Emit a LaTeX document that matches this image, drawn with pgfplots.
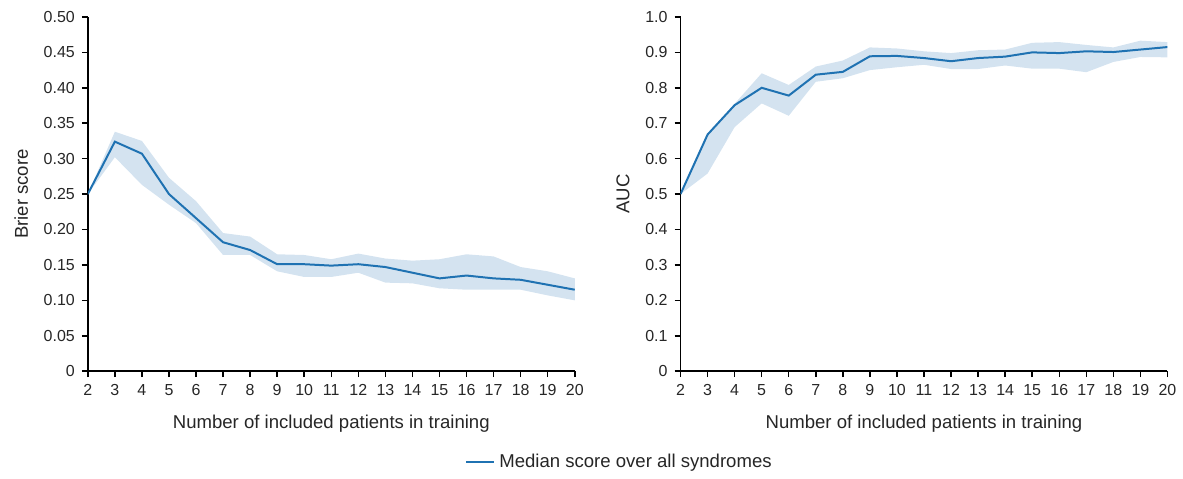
\documentclass[border=0pt]{standalone}
\usepackage{pgfplots}
\pgfplotsset{compat=1.18}
\usepgfplotslibrary{fillbetween}
\usepackage{fontspec}
\setmainfont{Liberation Sans}

\definecolor{medline}{RGB}{31,114,178}
\definecolor{bandfill}{RGB}{212,227,240}

% Brier score: x, median, upper, lower
\pgfplotstableread{
x  med   up    lo
2  0.250 0.250 0.250
3  0.324 0.338 0.302
4  0.307 0.325 0.263
5  0.250 0.273 0.235
6  0.216 0.240 0.209
7  0.182 0.195 0.164
8  0.171 0.190 0.164
9  0.151 0.165 0.141
10 0.151 0.164 0.133
11 0.149 0.158 0.133
12 0.151 0.166 0.139
13 0.147 0.159 0.125
14 0.139 0.156 0.124
15 0.131 0.158 0.117
16 0.135 0.165 0.115
17 0.131 0.162 0.115
18 0.129 0.147 0.115
19 0.122 0.141 0.107
20 0.115 0.131 0.100
}\brier

% AUC: x, median, upper, lower
\pgfplotstableread{
x  med   up    lo
2  0.500 0.500 0.500
3  0.668 0.670 0.558
4  0.751 0.755 0.689
5  0.800 0.841 0.756
6  0.778 0.808 0.721
7  0.837 0.860 0.817
8  0.845 0.877 0.827
9  0.889 0.914 0.850
10 0.890 0.911 0.858
11 0.884 0.903 0.865
12 0.875 0.898 0.853
13 0.884 0.906 0.853
14 0.888 0.908 0.863
15 0.900 0.927 0.854
16 0.898 0.929 0.854
17 0.903 0.921 0.844
18 0.901 0.914 0.873
19 0.908 0.933 0.887
20 0.915 0.929 0.886
}\auc

\pgfplotsset{
  panel/.style={
    scale only axis,
    width=244pt, height=177.5pt,
    axis lines*=left,
    axis line style={line width=0.75pt, black},
    tick align=outside,
    major tick length=3pt,
    tick style={line width=0.75pt, black},
    xmin=2, xmax=20,
    xtick={2,...,20},
    /pgf/number format/assume math mode=true,
    tick label style={font=\fontsize{8}{9}\selectfont, text=black!85},
    label style={font=\fontsize{9.3}{11}\selectfont, text=black!85},
    xlabel={Number of included patients in training},
    xlabel style={yshift=-3pt},
    ylabel style={yshift=1pt},
  },
}

\begin{document}
\begin{tikzpicture}

\begin{axis}[panel,
  at={(44pt,51.5pt)}, anchor=south west,
  ymin=0, ymax=0.5,
  ytick={0,0.05,...,0.5},
  yticklabels={0,0.05,0.10,0.15,0.20,0.25,0.30,0.35,0.40,0.45,0.50},
  ylabel={Brier score},
  legend style={draw=none, fill=none, at={(axis description cs:1.094,-0.256)}, anchor=center,
    font=\fontsize{9.3}{11}\selectfont, text=black!85},
  legend cell align=left,
  legend image code/.code={\draw[medline, line width=1pt] (0pt,0pt) -- (14pt,0pt);},
]
  \addplot[name path=bu, draw=none, forget plot] table[x=x, y=up] {\brier};
  \addplot[name path=bl, draw=none, forget plot] table[x=x, y=lo] {\brier};
  \addplot[bandfill, forget plot] fill between[of=bu and bl];
  \addplot[medline, line width=1pt] table[x=x, y=med] {\brier};
  \addlegendentry{Median score over all syndromes}
\end{axis}

\begin{axis}[panel,
  at={(341pt,51.5pt)}, anchor=south west,
  ymin=0, ymax=1,
  ytick={0,0.1,...,1.0},
  yticklabels={0,0.1,0.2,0.3,0.4,0.5,0.6,0.7,0.8,0.9,1.0},
  ylabel={AUC},
]
  \addplot[name path=au, draw=none] table[x=x, y=up] {\auc};
  \addplot[name path=al, draw=none] table[x=x, y=lo] {\auc};
  \addplot[bandfill] fill between[of=au and al];
  \addplot[medline, line width=1pt] table[x=x, y=med] {\auc};
\end{axis}

% page frame
\path (0,0) rectangle (591.5pt,237.5pt);
\end{tikzpicture}
\end{document}
